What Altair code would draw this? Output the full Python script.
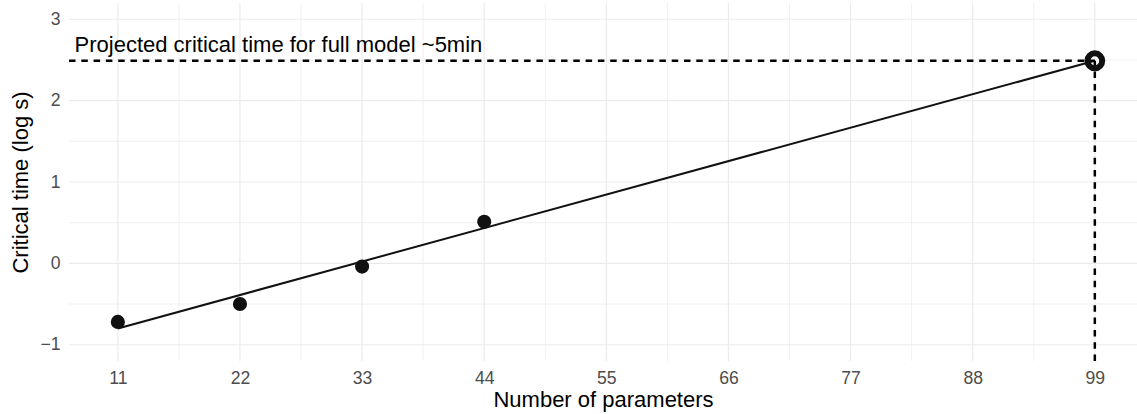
import altair as alt
import pandas as pd

# Measured critical times (log10 seconds) by number of parameters
n_params = [11, 22, 33, 44]
crit_log_s = [-0.72, -0.50, -0.04, 0.51]

# Linear trend extended to the full model
trend_x = [11, 99]
trend_y = [-0.80, 2.49]

# Projected point for the full model
proj_x = [99]
proj_y = [2.49]

# Axis ticks and grid positions
x_ticks = [11, 22, 33, 44, 55, 66, 77, 88, 99]
x_minor = [16.5, 27.5, 38.5, 49.5, 60.5, 71.5, 82.5, 93.5]
y_ticks = [-1, 0, 1, 2, 3]
y_minor = [-0.5, 0.5, 1.5, 2.5]

X_DOMAIN = [6.6, 102.8]
Y_DOMAIN = [-1.2, 3.2]

annotation = "Projected critical time for full model ~5min"

FONT = "Liberation Sans"
GRID = "#ebebeb"

xs = alt.Scale(domain=X_DOMAIN, nice=False, zero=False)
ys = alt.Scale(domain=Y_DOMAIN, nice=False, zero=False)

x_axis = alt.Axis(
    values=x_ticks, format="d", grid=False, domain=False, ticks=False,
    labelFont=FONT, labelFontSize=17.6, labelColor="#4d4d4d", labelPadding=8,
    title="Number of parameters", titleFont=FONT, titleFontSize=22,
    titleFontWeight="normal", titleColor="#000000",
    titleBaseline="alphabetic", titleY=45,
)
y_axis = alt.Axis(
    values=y_ticks, format="d", grid=False, domain=False, ticks=False,
    labelFont=FONT, labelFontSize=17.6, labelColor="#4d4d4d", labelPadding=9,
    labelExpr="replace(datum.label, '-', '\u2212')",
    title="Critical time (log s)", titleFont=FONT, titleFontSize=22,
    titleFontWeight="normal", titleColor="#000000",
    titleBaseline="alphabetic", titleX=-42,
)

pts = pd.DataFrame({"n": n_params, "t": crit_log_s})
trend = pd.DataFrame({"n": trend_x, "t": trend_y})
proj = pd.DataFrame({"n": proj_x, "t": proj_y})

# Grid lines (these layers carry the axes)
vmajor = alt.Chart(pd.DataFrame({"v": x_ticks})).mark_rule(
    color=GRID, strokeWidth=1.2
).encode(x=alt.X("v:Q", scale=xs, axis=x_axis))
hmajor = alt.Chart(pd.DataFrame({"v": y_ticks})).mark_rule(
    color=GRID, strokeWidth=1.2
).encode(y=alt.Y("v:Q", scale=ys, axis=y_axis))
vminor = alt.Chart(pd.DataFrame({"v": x_minor})).mark_rule(
    color=GRID, strokeWidth=0.7
).encode(x=alt.X("v:Q", scale=xs))
hminor = alt.Chart(pd.DataFrame({"v": y_minor})).mark_rule(
    color=GRID, strokeWidth=0.7
).encode(y=alt.Y("v:Q", scale=ys))

# Dashed guides to the projected point
hguide = alt.Chart(pd.DataFrame({"x0": [X_DOMAIN[0]], "x1": proj_x, "y": proj_y})).mark_rule(
    color="#000000", strokeWidth=2.5, strokeDash=[6.5, 5.8]
).encode(x=alt.X("x0:Q", scale=xs), x2="x1:Q", y=alt.Y("y:Q", scale=ys))
vguide = alt.Chart(pd.DataFrame({"x": proj_x, "y0": [Y_DOMAIN[0]], "y1": proj_y})).mark_rule(
    color="#000000", strokeWidth=2.5, strokeDash=[6.5, 5.8]
).encode(x=alt.X("x:Q", scale=xs), y=alt.Y("y0:Q", scale=ys), y2="y1:Q")

line = alt.Chart(trend).mark_line(color="#111111", strokeWidth=2).encode(
    x=alt.X("n:Q", scale=xs), y=alt.Y("t:Q", scale=ys)
)

dots = alt.Chart(pts).mark_circle(color="#111111", size=200, opacity=1).encode(
    x=alt.X("n:Q", scale=xs), y=alt.Y("t:Q", scale=ys)
)

ring = alt.Chart(proj).mark_point(
    shape="circle", filled=False, color="#111111", size=220, strokeWidth=6, opacity=1
).encode(x=alt.X("n:Q", scale=xs), y=alt.Y("t:Q", scale=ys))

label = alt.Chart(pd.DataFrame({"x": [7.1], "y": [2.6], "txt": [annotation]})).mark_text(
    align="left", baseline="alphabetic", font=FONT, fontSize=22, color="#000000"
).encode(x=alt.X("x:Q", scale=xs), y=alt.Y("y:Q", scale=ys), text="txt:N")

chart = alt.layer(
    vmajor, hmajor, vminor, hminor, line, hguide, vguide, dots, ring, label
).properties(
    width=1068, height=358,
    background="white",
    autosize=alt.AutoSizeParams(type="none"),
    padding={"left": 69, "top": 3, "right": 0, "bottom": 53},
).configure_view(stroke=None).configure_axis(
    domain=False, ticks=False, grid=False
)

chart.save("out.html", embed_options={"renderer": "svg", "actions": False})
